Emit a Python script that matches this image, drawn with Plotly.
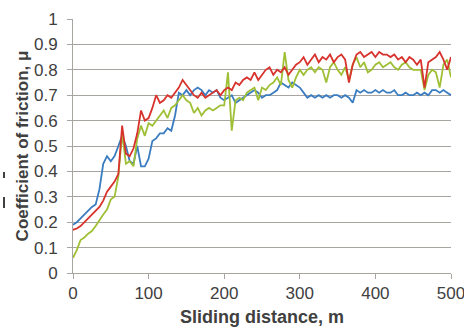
import plotly.graph_objects as go

distance = list(range(0, 505, 5))

blue = [0.19, 0.20, 0.215, 0.23, 0.245, 0.26, 0.27, 0.33, 0.43, 0.46,
        0.44, 0.46, 0.50, 0.54, 0.50, 0.44, 0.43, 0.50, 0.42, 0.42,
        0.45, 0.52, 0.53, 0.55, 0.55, 0.57, 0.56, 0.62, 0.71, 0.70,
        0.72, 0.70, 0.72, 0.73, 0.72, 0.70, 0.72, 0.71, 0.72, 0.69,
        0.68, 0.69, 0.70, 0.67, 0.68, 0.69, 0.70, 0.71, 0.72, 0.71,
        0.69, 0.70, 0.70, 0.71, 0.72, 0.75, 0.74, 0.73, 0.75, 0.74,
        0.73, 0.71, 0.69, 0.70, 0.69, 0.70, 0.69, 0.70, 0.69, 0.70,
        0.70, 0.69, 0.70, 0.69, 0.67, 0.72, 0.71, 0.72, 0.71, 0.71,
        0.72, 0.71, 0.72, 0.71, 0.71, 0.72, 0.70, 0.70, 0.71, 0.70,
        0.70, 0.71, 0.70, 0.71, 0.70, 0.72, 0.72, 0.71, 0.72, 0.71,
        0.70]

red = [0.17, 0.175, 0.185, 0.20, 0.215, 0.23, 0.245, 0.26, 0.285, 0.32,
       0.34, 0.36, 0.39, 0.58, 0.47, 0.46, 0.49, 0.55, 0.64, 0.60,
       0.61, 0.65, 0.70, 0.67, 0.68, 0.70, 0.69, 0.71, 0.73, 0.76,
       0.74, 0.72, 0.70, 0.69, 0.71, 0.69, 0.70, 0.71, 0.72, 0.70,
       0.72, 0.73, 0.72, 0.75, 0.74, 0.76, 0.77, 0.76, 0.79, 0.76,
       0.78, 0.80, 0.81, 0.78, 0.80, 0.79, 0.81, 0.78, 0.80, 0.82,
       0.83, 0.85, 0.82, 0.84, 0.86, 0.83, 0.85, 0.84, 0.86, 0.83,
       0.85, 0.86, 0.84, 0.75, 0.82, 0.86, 0.87, 0.85, 0.86, 0.87,
       0.85, 0.87, 0.86, 0.86, 0.85, 0.86, 0.84, 0.85, 0.83, 0.85,
       0.84, 0.82, 0.84, 0.73, 0.83, 0.84, 0.85, 0.87, 0.84, 0.80,
       0.85]

green = [0.06, 0.09, 0.13, 0.14, 0.155, 0.165, 0.185, 0.21, 0.23, 0.25,
         0.29, 0.30, 0.38, 0.55, 0.43, 0.44, 0.42, 0.53, 0.58, 0.54,
         0.59, 0.58, 0.60, 0.62, 0.64, 0.61, 0.65, 0.66, 0.68, 0.70,
         0.68, 0.67, 0.63, 0.65, 0.62, 0.64, 0.65, 0.64, 0.65, 0.66,
         0.66, 0.79, 0.56, 0.68, 0.69, 0.68, 0.71, 0.72, 0.73, 0.68,
         0.73, 0.72, 0.74, 0.75, 0.77, 0.74, 0.87, 0.76, 0.73, 0.77,
         0.80, 0.78, 0.80, 0.81, 0.79, 0.81, 0.80, 0.75, 0.81, 0.83,
         0.80, 0.78, 0.81, 0.76, 0.82, 0.85, 0.81, 0.83, 0.79, 0.80,
         0.82, 0.83, 0.81, 0.82, 0.83, 0.81, 0.80, 0.82, 0.83, 0.81,
         0.80, 0.80, 0.80, 0.72, 0.78, 0.80, 0.79, 0.73, 0.82, 0.84,
         0.77]

x_ticks = [0, 100, 200, 300, 400, 500]
y_ticks = [0, 0.1, 0.2, 0.3, 0.4, 0.5, 0.6, 0.7, 0.8, 0.9, 1]
y_ticklabels = ["0", "0.1", "0.2", "0.3", "0.4", "0.5", "0.6", "0.7", "0.8", "0.9", "1"]

fig = go.Figure()
for name, ys, color in [("blue", blue, "#3a7cc0"),
                        ("green", green, "#9fbf35"),
                        ("red", red, "#d8322c")]:
    fig.add_trace(go.Scatter(x=distance, y=ys, mode="lines", name=name,
                             line=dict(color=color, width=1.8), showlegend=False))

grid = "#a8a4a0"
fig.update_layout(
    width=464, height=327,
    margin=dict(l=73, r=13, t=19, b=54, autoexpand=False),
    paper_bgcolor="white", plot_bgcolor="white",
    font=dict(family="Liberation Sans, Arial, sans-serif", color="#404040"),
    xaxis=dict(range=[0, 500], tickvals=x_ticks, showgrid=False,
               showline=True, linecolor=grid, linewidth=1,
               ticks="outside", ticklen=5, tickcolor=grid,
               tickfont=dict(size=17, color="#404040"),
               ticklabeloverflow="allow",
               title=dict(text="<b>Sliding distance, m</b>", font=dict(size=18, color="#404040"), standoff=7),
               zeroline=False, automargin=False),
    yaxis=dict(range=[0, 1], tickvals=y_ticks, ticktext=y_ticklabels,
               showgrid=True, gridcolor=grid, gridwidth=1,
               showline=True, linecolor=grid, linewidth=1,
               ticks="outside", ticklen=5, tickcolor=grid,
               tickfont=dict(size=17, color="#404040"),
               ticklabelstandoff=6, ticklabeloverflow="allow",
               title=dict(text="<b>Coefficient of friction, μ</b>", font=dict(size=17, color="#404040"), standoff=1),
               zeroline=False, automargin=False),
)

# cropped stray marks at the far left edge of the original image
for (py0, py1) in [(172, 178), (197, 208)]:
    fig.add_shape(type="line", xref="paper", yref="paper",
                  x0=(4 - 73) / 378, x1=(4 - 73) / 378,
                  y0=(273 - py1) / 254, y1=(273 - py0) / 254,
                  line=dict(color="#404040", width=2))

fig.write_html("out.html", config={"displayModeBar": False},
               post_script="document.body.style.margin='0';")
